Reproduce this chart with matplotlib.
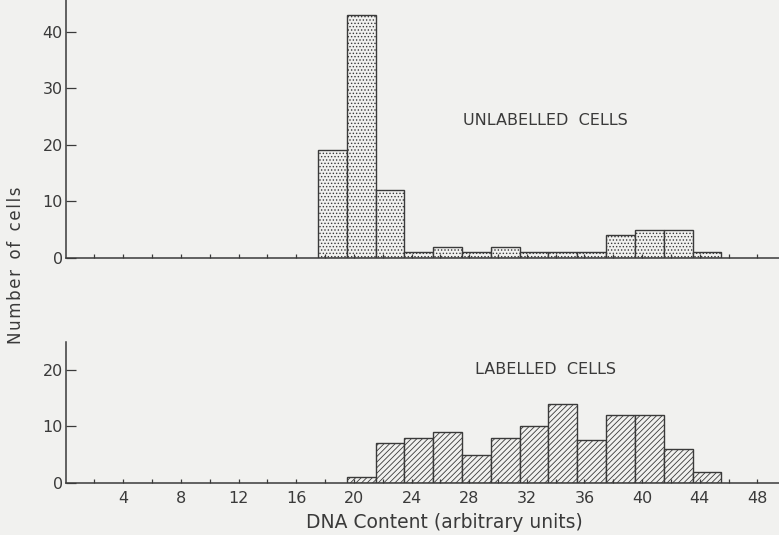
import numpy as np
import matplotlib
matplotlib.use("Agg")
import matplotlib.pyplot as plt

# DNA content bin centres (arbitrary units) and cell counts
unlab_dna = [18.5, 20.5, 22.5, 24.5, 26.5, 28.5, 30.5, 32.5, 34.5, 36.5, 38.5, 40.5, 42.5, 44.5]
unlab_n = [19, 43, 12, 1, 2, 1, 2, 1, 1, 1, 4, 5, 5, 1]

lab_dna = [20.5, 22.5, 24.5, 26.5, 28.5, 30.5, 32.5, 34.5, 36.5, 38.5, 40.5, 42.5, 44.5]
lab_n = [1, 7, 8, 9, 5, 8, 10, 14, 7.6, 12, 12, 6, 2]

xticks_major = [4, 8, 12, 16, 20, 24, 28, 32, 36, 40, 44, 48]
bg = '#f1f1ef'
ink = '#3a3a3a'

plt.rcParams['font.family'] = 'DejaVu Sans'
plt.rcParams['hatch.linewidth'] = 0.6
plt.rcParams['hatch.color'] = ink


def spaced(s, sep='\u200a'):
    # crude letter spacing, plotter lettering is wide
    return '  '.join(sep.join(w) for w in s.split(' '))


fig = plt.figure(figsize=(7.79, 5.35), dpi=100, facecolor=bg)
ax1 = fig.add_axes([0.0843, 0.5178, 0.9157, 0.4822])
ax2 = fig.add_axes([0.0843, 0.0972, 0.9157, 0.2641])


def style(ax, ymax, yticks, xlabels):
    ax.set_facecolor(bg)
    ax.set_xlim(0, 49.5)
    ax.set_ylim(0, ymax)
    for s in ['top', 'right']:
        ax.spines[s].set_visible(False)
    for s in ['left', 'bottom']:
        ax.spines[s].set_color(ink)
        ax.spines[s].set_linewidth(1.1)
    ax.set_yticks(yticks)
    ax.set_xticks(xticks_major)
    ax.set_xticks(np.arange(2, 49, 2), minor=True)
    ax.tick_params(axis='y', direction='in', length=7, width=0.9, color=ink,
                   labelsize=11.5, labelcolor=ink, pad=2)
    ax.tick_params(axis='x', which='both', direction='in', length=3, width=0.9,
                   color=ink, labelsize=11.5, labelcolor=ink, pad=6)
    if not xlabels:
        ax.set_xticklabels([])


style(ax1, 45.6, [0, 10, 20, 30, 40], False)
style(ax2, 25, [0, 10, 20], True)

ax1.bar(unlab_dna, unlab_n, width=2, color=bg, edgecolor=ink, linewidth=1.0,
        hatch='.....')
ax2.bar(lab_dna, lab_n, width=2, color=bg, edgecolor=ink, linewidth=1.0,
        hatch='//////')

ax1.text(33.3, 24.3, 'UNLABELLED  CELLS', fontsize=11.5, color=ink,
         ha='center', va='center')
ax2.text(33.3, 20.0, 'LABELLED  CELLS', fontsize=11.5, color=ink,
         ha='center', va='center')

fig.text(0.571, 0.024, 'DNA Content (arbitrary units)', fontsize=13.5,
         color=ink, ha='center', va='center')
fig.text(0.021, 0.505, spaced('Number of cells'), fontsize=12, color=ink,
         ha='center', va='center', rotation=90)

fig.savefig('out.png', dpi=100, facecolor=bg)
